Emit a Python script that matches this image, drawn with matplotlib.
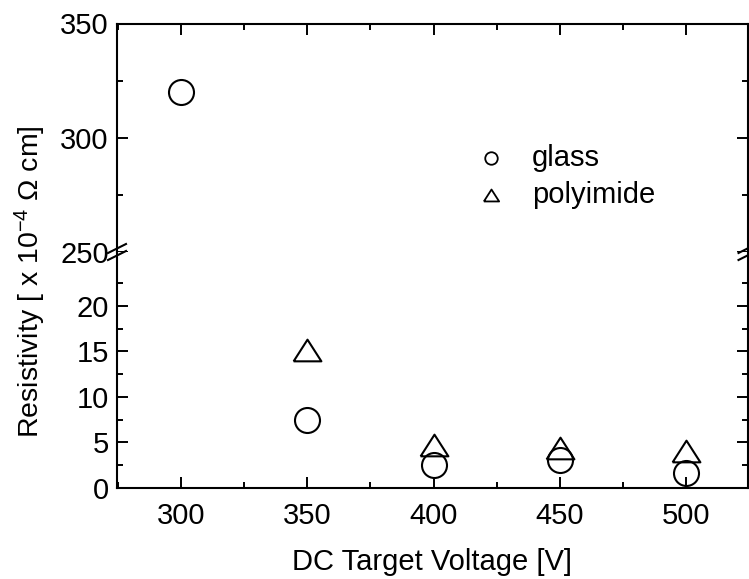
import matplotlib
matplotlib.use('Agg')
import matplotlib.pyplot as plt
from matplotlib.lines import Line2D
from matplotlib.ticker import MultipleLocator, FixedLocator

plt.rcParams['font.family'] = ['Liberation Sans', 'DejaVu Sans']
plt.rcParams['mathtext.fontset'] = 'custom'
plt.rcParams['mathtext.rm'] = 'Liberation Sans'
plt.rcParams['mathtext.it'] = 'Liberation Sans:italic'

# resistivity vs DC target voltage
voltage = [300, 350, 400, 450, 500]
glass = [320, 7.5, 2.5, 3.1, 1.7]
poly_v = [350, 400, 450, 500]
polyimide = [15.1, 4.7, 4.4, 4.1]

W, H = 749, 579
fig = plt.figure(figsize=(W / 100, H / 100), dpi=100)

def px(x0, y0, x1, y1):
    # axes rect from pixel corners (top-left origin)
    return [x0 / W, 1 - y1 / H, (x1 - x0) / W, (y1 - y0) / H]

ax_top = fig.add_axes(px(117, 23.5, 747.5, 252))
ax_bot = fig.add_axes(px(117, 252, 747.5, 488))

tri = [(-1, -0.78), (1, -0.78), (0, 0.78), (-1, -0.78)]
fs = 21

for ax in (ax_top, ax_bot):
    ax.plot(voltage, glass, linestyle='none', marker='o', markersize=18,
            markerfacecolor='none', markeredgecolor='black', markeredgewidth=1.5)
    ax.plot(poly_v, polyimide, linestyle='none', marker=tri, markersize=20,
            markerfacecolor='none', markeredgecolor='black', markeredgewidth=1.5)
    ax.set_xlim(274.5, 524.5)
    ax.xaxis.set_major_locator(MultipleLocator(50))
    ax.xaxis.set_minor_locator(MultipleLocator(25))
    for s in ax.spines.values():
        s.set_linewidth(1.5)
    ax.tick_params(which='both', direction='in', left=True, right=True,
                   labelsize=fs, width=1.4, pad=6)
    ax.tick_params(which='major', length=8)
    ax.tick_params(which='minor', length=4)
    ax.tick_params(axis='x', which='both', pad=10)

ax_top.set_ylim(250, 350)
ax_top.yaxis.set_major_locator(MultipleLocator(50))
ax_top.yaxis.set_minor_locator(MultipleLocator(25))
ax_top.spines['bottom'].set_visible(False)
ax_top.tick_params(which='both', bottom=False, top=True, labelbottom=False)

ax_bot.set_ylim(0, 25.9)
ax_bot.yaxis.set_major_locator(FixedLocator([0, 5, 10, 15, 20]))
ax_bot.yaxis.set_minor_locator(FixedLocator([2.5, 7.5, 12.5, 17.5, 22.5]))
ax_bot.spines['top'].set_visible(False)
ax_bot.tick_params(which='both', top=False)
ax_bot.set_xlabel('DC Target Voltage [V]', fontsize=fs, labelpad=13)

# axis break marks on both spines
for xb in (117, 747.5):
    for dy in (-3.5, 3.5):
        y = 252 + dy
        fig.add_artist(Line2D([(xb - 9) / W, (xb + 9) / W],
                              [1 - (y + 4.5) / H, 1 - (y - 4.5) / H],
                              color='black', lw=1.5))

fig.text(30 / W, 1 - 282 / H, 'Resistivity [ x 10$^{-4}$ Ω cm]',
         rotation=90, ha='center', va='center', fontsize=20.5)

# legend
legend_items = [('o', 'glass', 9), (tri, 'polyimide', 11)]
for i, (mk, label, ms) in enumerate(legend_items):
    y = 158 + i * 37
    fig.add_artist(Line2D([491 / W], [1 - y / H], marker=mk, markersize=ms,
                          markerfacecolor='none', markeredgecolor='black',
                          markeredgewidth=1.3, linestyle='none'))
    fig.text(532 / W, 1 - y / H, label, ha='left', va='center', fontsize=fs)

fig.savefig('out.png', dpi=100)
